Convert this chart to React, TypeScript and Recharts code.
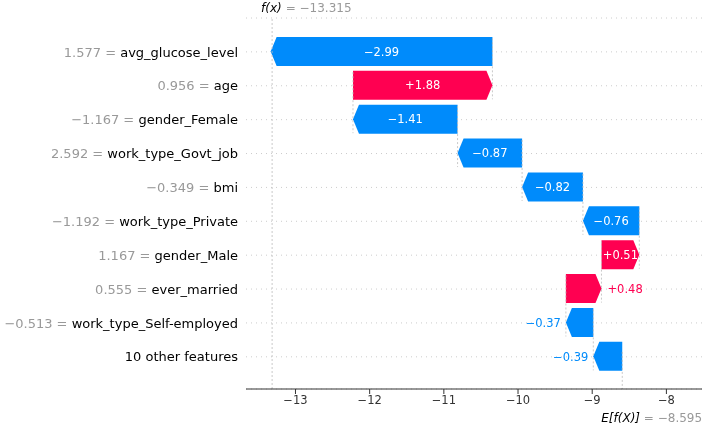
import { Bar, CartesianGrid, ComposedChart, ReferenceLine, XAxis, YAxis } from "recharts";

// SHAP waterfall: rows listed top to bottom
const features = [
  "avg_glucose_level",
  "age",
  "gender_Female",
  "work_type_Govt_job",
  "bmi",
  "work_type_Private",
  "gender_Male",
  "ever_married",
  "work_type_Self-employed",
  "10 other features",
];
const featureValues = ["1.577", "0.956", "\u22121.167", "2.592", "\u22120.349", "\u22121.192", "1.167", "0.555", "\u22120.513", ""];
const shapValues = [-2.99, 1.88, -1.41, -0.87, -0.82, -0.76, 0.51, 0.48, -0.37, -0.39];
const baseValue = -8.595;
const fxValue = -13.315;
const xTicks = [-13, -12, -11, -10, -9, -8];

const RED = "#ff0051";
const BLUE = "#008bfb";
const FONT = "DejaVu Sans, sans-serif";

const n = features.length;
const starts: number[] = new Array(n);
{
  let loc = baseValue;
  for (let i = n - 1; i >= 0; i--) {
    starts[i] = loc;
    loc += shapValues[i];
  }
}

// pos grows downwards (numeric y axis in vertical layout)
const rows = features.map((name, i) => {
  const start = starts[i];
  const end = start + shapValues[i];
  return {
    name,
    featureValue: featureValues[i],
    shap: shapValues[i],
    pos: i,
    start,
    range: [Math.min(start, end), Math.max(start, end)],
  };
});

const yDomain = [-1, n - 0.05];

const minus = (v: number) => (v < 0 ? `\u2212${Math.abs(v)}` : `${v}`);

// rough DejaVu Sans advance widths (em)
const textWidth = (s: string, size: number) =>
  s.split("").reduce((w, c) => w + (c === "." ? 0.318 : c === "+" || c === "\u2212" ? 0.838 : 0.636), 0) * size;

function WaterfallArrow(props: any) {
  const { x, y, width, height, payload } = props;
  const left = Math.min(x, x + width);
  const w = Math.abs(width);
  const right = left + w;
  const top = y;
  const bot = y + height;
  const mid = y + height / 2;
  const head = Math.min(w, 6);
  const positive = payload.shap > 0;
  const pts = positive
    ? [[left, top], [right - head, top], [right, mid], [right - head, bot], [left, bot]]
    : [[right, top], [left + head, top], [left, mid], [left + head, bot], [right, bot]];
  const color = positive ? RED : BLUE;
  const label = (positive ? "+" : "\u2212") + Math.abs(payload.shap).toFixed(2);
  const inside = textWidth(label, 12) < w;
  return (
    <g>
      <polygon points={pts.map((p) => p.join(",")).join(" ")} fill={color} />
      {inside ? (
        <text x={left + w / 2} y={mid} dy="0.36em" textAnchor="middle" fill="#fff" fontSize={11.5} fontFamily={FONT}>
          {label}
        </text>
      ) : positive ? (
        <text x={right + 6} y={mid} dy="0.36em" textAnchor="start" fill={color} fontSize={11.5} fontFamily={FONT}>
          {label}
        </text>
      ) : (
        <text x={left - 5} y={mid} dy="0.36em" textAnchor="end" fill={color} fontSize={11.5} fontFamily={FONT}>
          {label}
        </text>
      )}
    </g>
  );
}

function FeatureTick({ x, y, payload }: any) {
  const row = rows.find((r) => r.pos === payload.value);
  if (!row) return null;
  return (
    <text x={x} y={y} dy="0.36em" textAnchor="end" fontSize={13} fontFamily={FONT}>
      {row.featureValue && <tspan fill="#999999">{row.featureValue} = </tspan>}
      <tspan fill="#000000">{row.name}</tspan>
    </text>
  );
}

const FxLabel = ({ viewBox }: any) => (
  <text x={viewBox.x - 11} y={12} fontSize={12} fontFamily={FONT}>
    <tspan fill="#000" fontStyle="italic">f(x)</tspan>
    <tspan fill="#999999"> = {minus(fxValue)}</tspan>
  </text>
);

const BaseLabel = ({ viewBox }: any) => (
  <text x={viewBox.x - 21} y={viewBox.y + viewBox.height + 33} fontSize={12} fontFamily={FONT}>
    <tspan fill="#000" fontStyle="italic">E[f(X)]</tspan>
    <tspan fill="#999999"> = {minus(baseValue)}</tspan>
  </text>
);

export default function App() {
  return (
    <div style={{ position: "fixed", left: 0, top: 0, fontFamily: FONT }}>
      <ComposedChart
        width={708}
        height={427}
        data={rows}
        layout="vertical"
        margin={{ top: 18, right: 6, bottom: 0, left: 0 }}
      >
        <CartesianGrid vertical={false} stroke="#cccccc" strokeDasharray="1 4" />
        <XAxis
          type="number"
          domain={[-13.667, -7.52]}
          ticks={xTicks}
          tickFormatter={minus}
          height={38}
          tick={{ fill: "#333333", fontSize: 11.5, fontFamily: FONT }}
          axisLine={{ stroke: "#333333" }}
          tickLine={{ stroke: "#333333" }}
          tickSize={5}
          tickMargin={2}
        />
        <YAxis
          type="number"
          dataKey="pos"
          domain={yDomain}
          ticks={rows.map((r) => r.pos)}
          width={246}
          axisLine={false}
          tickLine={false}
          tickSize={0}
          tickMargin={8}
          tick={<FeatureTick />}
        />
        <ReferenceLine x={fxValue} stroke="#bbbbbb" strokeWidth={0.8} strokeDasharray="2 2" label={<FxLabel />} />
        <ReferenceLine
          segment={[{ x: baseValue, y: yDomain[1] - (yDomain[1] - yDomain[0]) / n }, { x: baseValue, y: yDomain[1] }]}
          stroke="#bbbbbb"
          strokeWidth={0.8}
          strokeDasharray="2 2"
          label={<BaseLabel />}
        />
        {rows.slice(0, n - 1).map((r) => (
          <ReferenceLine
            key={r.name}
            segment={[{ x: r.start, y: r.pos - 0.4 }, { x: r.start, y: r.pos + 1.4 }]}
            stroke="#bbbbbb"
            strokeWidth={0.8}
            strokeDasharray="2 2"
          />
        ))}
        <Bar dataKey="range" barSize={29} shape={<WaterfallArrow />} isAnimationActive={false} />
      </ComposedChart>
    </div>
  );
}
